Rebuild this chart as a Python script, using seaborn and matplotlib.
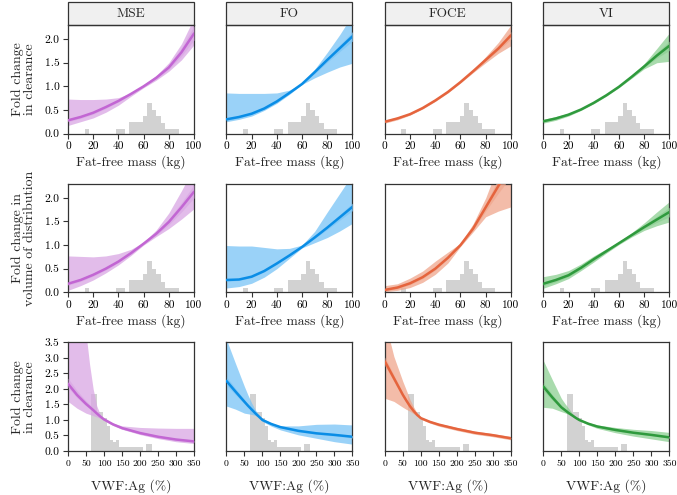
import matplotlib
matplotlib.use("Agg")
import matplotlib.pyplot as plt
from matplotlib.patches import Rectangle
import seaborn as sns

sns.set_style("ticks")
plt.rcParams["font.family"] = ["cmr10", "DejaVu Serif"]
plt.rcParams["mathtext.fontset"] = "cm"
plt.rcParams["axes.formatter.use_mathtext"] = True

# methods / colours
methods = ["MSE", "FO", "FOCE", "VI"]
line_colors = {"MSE": "#c266d3", "FO": "#0a8de6", "FOCE": "#e5643d", "VI": "#2f9a3d"}
band_colors = {"MSE": "#d9a6e4", "FO": "#79c4f6", "FOCE": "#efa68c", "VI": "#8ccf92"}

# x grids
ffm_x = [0, 10, 20, 30, 40, 50, 60, 70, 80, 90, 100]
vwf_x = [0, 25, 50, 60, 70, 80, 90, 100, 125, 150, 200, 250, 300, 350]

# histograms of the covariates (bar heights in plot units)
ffm_bin_edges = [13.2, 16.75, 20.3, 23.85, 27.4, 30.95, 34.5, 38.05, 41.6, 45.15, 48.7,
                 52.25, 55.8, 59.35, 62.9, 66.45, 70.0, 73.55, 77.1, 80.65, 84.2, 87.75]
ffm_hist = [0.085, 0, 0, 0, 0, 0, 0, 0.085, 0.085, 0, 0.25, 0.25, 0.25, 0.38, 0.655,
            0.49, 0.38, 0.225, 0.085, 0.085, 0.085]
vwf_bin_edges = [65, 73.4, 81.8, 90.2, 98.6, 107, 115.4, 123.8, 132.2, 140.6, 149,
                 157.4, 165.8, 174.2, 182.6, 191, 199.4, 207.8, 216.2, 224.6, 233]
vwf_hist = [1.84, 1.84, 1.25, 1.25, 1.06, 0.82, 0.36, 0.28, 0.36, 0.14, 0.14, 0.14,
            0.14, 0.14, 0.14, 0.14, 0.14, 0, 0.23, 0.23]

# row 1: clearance vs fat-free mass
cl_ffm_mid = {
    "MSE": [0.28, 0.35, 0.44, 0.56, 0.69, 0.84, 1.00, 1.18, 1.40, 1.72, 2.12],
    "FO": [0.30, 0.35, 0.42, 0.53, 0.68, 0.86, 1.05, 1.30, 1.56, 1.81, 2.06],
    "FOCE": [0.25, 0.32, 0.41, 0.54, 0.70, 0.88, 1.09, 1.32, 1.56, 1.80, 2.08],
    "VI": [0.26, 0.32, 0.40, 0.51, 0.65, 0.81, 0.99, 1.20, 1.42, 1.65, 1.86],
}
cl_ffm_lo = {
    "MSE": [0.17, 0.25, 0.33, 0.45, 0.60, 0.79, 0.97, 1.13, 1.32, 1.56, 1.88],
    "FO": [0.25, 0.30, 0.37, 0.49, 0.64, 0.83, 1.04, 1.18, 1.30, 1.41, 1.49],
    "FOCE": [0.22, 0.29, 0.39, 0.52, 0.68, 0.86, 1.07, 1.29, 1.50, 1.70, 1.86],
    "VI": [0.22, 0.28, 0.37, 0.49, 0.63, 0.79, 0.97, 1.17, 1.37, 1.50, 1.53],
}
cl_ffm_hi = {
    "MSE": [0.73, 0.72, 0.72, 0.73, 0.76, 0.86, 1.03, 1.23, 1.50, 1.90, 2.45],
    "FO": [0.86, 0.85, 0.85, 0.85, 0.86, 0.92, 1.06, 1.36, 1.72, 2.10, 2.52],
    "FOCE": [0.28, 0.35, 0.43, 0.56, 0.72, 0.90, 1.11, 1.35, 1.63, 1.93, 2.30],
    "VI": [0.30, 0.36, 0.43, 0.53, 0.67, 0.83, 1.01, 1.23, 1.48, 1.80, 2.13],
}
cl_ffm_ilo = {
    "MSE": [0.25, 0.32, 0.41, 0.53, 0.67, 0.82, 0.99, 1.16, 1.36, 1.64, 1.98],
    "FO": [0.27, 0.33, 0.40, 0.51, 0.66, 0.85, 1.04, 1.27, 1.51, 1.74, 1.96],
    "FOCE": [0.24, 0.31, 0.40, 0.53, 0.69, 0.87, 1.08, 1.31, 1.54, 1.76, 2.00],
    "VI": [0.24, 0.30, 0.39, 0.50, 0.64, 0.80, 0.98, 1.18, 1.40, 1.60, 1.76],
}
cl_ffm_ihi = {
    "MSE": [0.31, 0.38, 0.47, 0.59, 0.71, 0.86, 1.01, 1.20, 1.45, 1.82, 2.28],
    "FO": [0.33, 0.37, 0.44, 0.55, 0.70, 0.87, 1.06, 1.33, 1.61, 1.88, 2.16],
    "FOCE": [0.26, 0.33, 0.42, 0.55, 0.71, 0.89, 1.10, 1.33, 1.58, 1.85, 2.16],
    "VI": [0.28, 0.34, 0.41, 0.52, 0.66, 0.82, 1.00, 1.22, 1.45, 1.71, 1.96],
}

# row 2: volume of distribution vs fat-free mass
vd_ffm_mid = {
    "MSE": [0.18, 0.26, 0.37, 0.50, 0.65, 0.83, 1.03, 1.24, 1.49, 1.80, 2.13],
    "FO": [0.26, 0.27, 0.33, 0.45, 0.61, 0.78, 0.96, 1.16, 1.37, 1.59, 1.81],
    "FOCE": [0.05, 0.10, 0.19, 0.32, 0.50, 0.73, 1.00, 1.35, 1.80, 2.25, 2.65],
    "VI": [0.18, 0.26, 0.36, 0.52, 0.70, 0.87, 1.04, 1.21, 1.38, 1.54, 1.70],
}
vd_ffm_lo = {
    "MSE": [0.04, 0.14, 0.26, 0.41, 0.58, 0.78, 1.00, 1.18, 1.35, 1.55, 1.77],
    "FO": [0.09, 0.12, 0.19, 0.32, 0.50, 0.72, 0.94, 1.05, 1.16, 1.30, 1.46],
    "FOCE": [0.01, 0.04, 0.10, 0.21, 0.38, 0.62, 0.97, 1.28, 1.60, 1.72, 1.81],
    "VI": [0.085, 0.18, 0.29, 0.46, 0.64, 0.83, 1.01, 1.17, 1.31, 1.41, 1.49],
}
vd_ffm_hi = {
    "MSE": [0.77, 0.76, 0.75, 0.77, 0.82, 0.91, 1.06, 1.32, 1.68, 2.15, 2.65],
    "FO": [0.99, 0.98, 0.98, 0.95, 0.92, 0.93, 1.00, 1.29, 1.70, 2.10, 2.50],
    "FOCE": [0.14, 0.18, 0.30, 0.45, 0.66, 0.85, 1.04, 1.45, 2.00, 2.70, 3.40],
    "VI": [0.33, 0.38, 0.46, 0.60, 0.77, 0.92, 1.07, 1.26, 1.47, 1.70, 1.92],
}
vd_ffm_ilo = {
    "MSE": [0.15, 0.23, 0.34, 0.47, 0.63, 0.81, 1.02, 1.21, 1.43, 1.70, 2.00],
    "FO": [0.23, 0.25, 0.31, 0.43, 0.59, 0.77, 0.95, 1.14, 1.33, 1.53, 1.73],
    "FOCE": [0.03, 0.07, 0.16, 0.29, 0.47, 0.71, 0.99, 1.32, 1.72, 2.10, 2.45],
    "VI": [0.14, 0.22, 0.33, 0.49, 0.67, 0.85, 1.03, 1.19, 1.35, 1.48, 1.60],
}
vd_ffm_ihi = {
    "MSE": [0.21, 0.29, 0.40, 0.53, 0.67, 0.85, 1.04, 1.27, 1.55, 1.90, 2.28],
    "FO": [0.29, 0.29, 0.35, 0.47, 0.63, 0.79, 0.97, 1.18, 1.41, 1.65, 1.89],
    "FOCE": [0.07, 0.13, 0.22, 0.35, 0.53, 0.75, 1.01, 1.38, 1.88, 2.40, 2.85],
    "VI": [0.22, 0.30, 0.40, 0.55, 0.73, 0.89, 1.05, 1.23, 1.42, 1.61, 1.80],
}

# row 3: clearance vs VWF:Ag
cl_vwf_mid = {
    "MSE": [2.17, 1.81, 1.52, 1.42, 1.32, 1.21, 1.11, 1.02, 0.86, 0.74, 0.58, 0.46, 0.37, 0.31],
    "FO": [2.26, 1.92, 1.59, 1.46, 1.34, 1.22, 1.11, 1.00, 0.87, 0.77, 0.65, 0.57, 0.52, 0.46],
    "FOCE": [2.89, 2.35, 1.81, 1.62, 1.44, 1.29, 1.16, 1.06, 0.94, 0.85, 0.71, 0.59, 0.51, 0.41],
    "VI": [2.08, 1.73, 1.41, 1.32, 1.23, 1.15, 1.07, 1.00, 0.88, 0.79, 0.68, 0.59, 0.52, 0.44],
}
cl_vwf_lo = {
    "MSE": [1.60, 1.38, 1.22, 1.18, 1.14, 1.10, 1.05, 0.98, 0.82, 0.70, 0.53, 0.40, 0.30, 0.24],
    "FO": [1.45, 1.35, 1.22, 1.20, 1.18, 1.15, 1.08, 0.95, 0.80, 0.68, 0.52, 0.41, 0.30, 0.22],
    "FOCE": [1.70, 1.60, 1.41, 1.34, 1.28, 1.20, 1.12, 1.02, 0.90, 0.80, 0.66, 0.54, 0.46, 0.36],
    "VI": [1.41, 1.38, 1.27, 1.23, 1.18, 1.12, 1.04, 0.97, 0.84, 0.73, 0.59, 0.48, 0.39, 0.30],
}
cl_vwf_hi = {
    "MSE": [6.0, 5.0, 3.8, 2.8, 2.0, 1.45, 1.17, 1.06, 0.90, 0.81, 0.76, 0.74, 0.73, 0.73],
    "FO": [3.60, 2.83, 2.08, 1.80, 1.55, 1.33, 1.17, 1.06, 0.90, 0.81, 0.81, 0.86, 0.87, 0.84],
    "FOCE": [4.2, 3.05, 2.24, 1.95, 1.65, 1.42, 1.21, 1.09, 0.98, 0.89, 0.76, 0.64, 0.56, 0.47],
    "VI": [2.92, 2.30, 1.70, 1.53, 1.38, 1.22, 1.10, 1.03, 0.92, 0.84, 0.76, 0.70, 0.66, 0.60],
}
cl_vwf_ilo = {
    "MSE": [2.05, 1.72, 1.46, 1.37, 1.28, 1.18, 1.09, 1.00, 0.84, 0.71, 0.55, 0.43, 0.34, 0.28],
    "FO": [2.12, 1.82, 1.52, 1.41, 1.30, 1.19, 1.09, 0.99, 0.85, 0.75, 0.62, 0.54, 0.48, 0.42],
    "FOCE": [2.75, 2.25, 1.75, 1.57, 1.41, 1.27, 1.15, 1.05, 0.92, 0.83, 0.69, 0.57, 0.49, 0.39],
    "VI": [1.95, 1.64, 1.36, 1.28, 1.20, 1.13, 1.06, 0.99, 0.86, 0.77, 0.65, 0.56, 0.49, 0.41],
}
cl_vwf_ihi = {
    "MSE": [2.35, 1.95, 1.62, 1.50, 1.38, 1.25, 1.13, 1.04, 0.89, 0.77, 0.62, 0.50, 0.41, 0.35],
    "FO": [2.40, 2.02, 1.66, 1.51, 1.38, 1.25, 1.13, 1.01, 0.89, 0.79, 0.68, 0.60, 0.56, 0.50],
    "FOCE": [3.03, 2.45, 1.87, 1.67, 1.47, 1.31, 1.17, 1.07, 0.96, 0.87, 0.73, 0.61, 0.53, 0.43],
    "VI": [2.21, 1.82, 1.46, 1.36, 1.26, 1.17, 1.08, 1.01, 0.90, 0.81, 0.71, 0.62, 0.55, 0.47],
}

ffm_ticks = [0, 20, 40, 60, 80, 100]
vwf_ticks = [0, 50, 100, 150, 200, 250, 300, 350]
ffm_yticks = [0.0, 0.5, 1.0, 1.5, 2.0]
vwf_yticks = [0.0, 0.5, 1.0, 1.5, 2.0, 2.5, 3.0, 3.5]

rows = [
    dict(x=ffm_x, mid=cl_ffm_mid, lo=cl_ffm_lo, hi=cl_ffm_hi, ilo=cl_ffm_ilo, ihi=cl_ffm_ihi,
         edges=ffm_bin_edges, hist=ffm_hist, xlim=(0, 100), ylim=(0, 2.3),
         xticks=ffm_ticks, yticks=ffm_yticks, xlabel="Fat-free mass (kg)",
         ylabel="Fold change\nin clearance", xtsize=8.2, pad=3),
    dict(x=ffm_x, mid=vd_ffm_mid, lo=vd_ffm_lo, hi=vd_ffm_hi, ilo=vd_ffm_ilo, ihi=vd_ffm_ihi,
         edges=ffm_bin_edges, hist=ffm_hist, xlim=(0, 100), ylim=(0, 2.3),
         xticks=ffm_ticks, yticks=ffm_yticks, xlabel="Fat-free mass (kg)",
         ylabel="Fold change in\nvolume of distribution", xtsize=8.2, pad=3),
    dict(x=vwf_x, mid=cl_vwf_mid, lo=cl_vwf_lo, hi=cl_vwf_hi, ilo=cl_vwf_ilo, ihi=cl_vwf_ihi,
         edges=vwf_bin_edges, hist=vwf_hist, xlim=(0, 350), ylim=(0, 3.5),
         xticks=vwf_ticks, yticks=vwf_yticks, xlabel="VWF:Ag (%)",
         ylabel="Fold change\nin clearance", xtsize=7, pad=8),
]

fig, axes = plt.subplots(3, 4, figsize=(6.77, 4.95), dpi=100)
fig.subplots_adjust(left=0.1004, right=0.9887, top=0.9495, bottom=0.0889,
                    wspace=0.257, hspace=0.463)

for r, row in enumerate(rows):
    for c, m in enumerate(methods):
        ax = axes[r, c]
        centers = [(a + b) / 2 for a, b in zip(row["edges"][:-1], row["edges"][1:])]
        sns.histplot(x=centers, weights=row["hist"], bins=row["edges"], ax=ax,
                     color="#d2d2d2", alpha=1, linewidth=0, zorder=1)
        ax.fill_between(row["x"], row["lo"][m], row["hi"][m], color=band_colors[m],
                        alpha=0.75, linewidth=0, zorder=2)
        ax.fill_between(row["x"], row["ilo"][m], row["ihi"][m], color=band_colors[m],
                        alpha=0.7, linewidth=0, zorder=3)
        sns.lineplot(x=row["x"], y=row["mid"][m], ax=ax, color=line_colors[m],
                     linewidth=1.8, zorder=4)
        ax.set_xlim(*row["xlim"])
        ax.set_ylim(*row["ylim"])
        ax.set_xticks(row["xticks"], labels=[str(t) for t in row["xticks"]])
        ax.set_yticks(row["yticks"], labels=["%.1f" % t for t in row["yticks"]])
        ax.tick_params(axis="x", labelsize=row["xtsize"], length=3.5, width=0.8,
                       colors="#333333", labelcolor="black", pad=2.5)
        ax.tick_params(axis="y", labelsize=8.3, length=3.5, width=0.8,
                       colors="#333333", labelcolor="black", pad=2.5)
        ax.set_xlabel(row["xlabel"], fontsize=9.8, labelpad=row["pad"])
        ax.set_ylabel("")
        for s in ax.spines.values():
            s.set_visible(True)
            s.set_color("#333333")
            s.set_linewidth(0.9)
        if c == 0:
            ax.set_ylabel(row["ylabel"], fontsize=10, labelpad=6, linespacing=1.05)
        else:
            ax.tick_params(axis="y", left=False, labelleft=False)
        if r == 0:
            box = Rectangle((0, 1), 1, 0.212, transform=ax.transAxes, clip_on=False,
                            facecolor="#f0f0f0", edgecolor="#333333", linewidth=0.9)
            ax.add_patch(box)
            ax.text(0.5, 1.106, m, transform=ax.transAxes, ha="center", va="center",
                    fontsize=9.6)

fig.savefig("out.png", dpi=100)
